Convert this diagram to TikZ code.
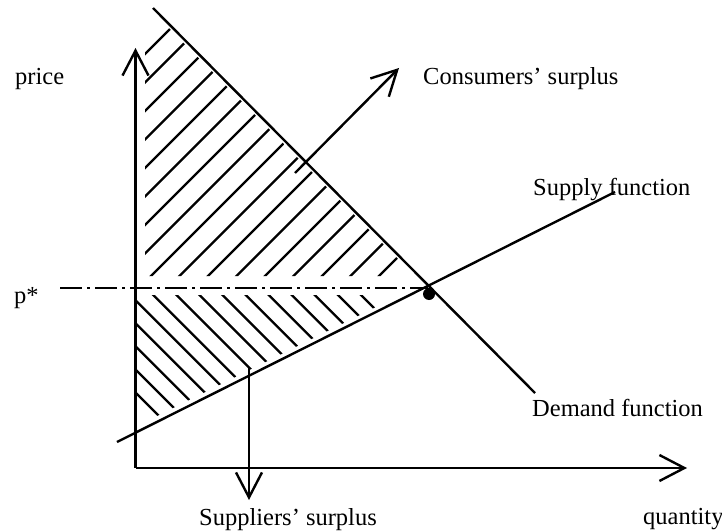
\documentclass[tikz,border=0pt]{standalone}
\usepackage{fontspec}
\setmainfont{Liberation Serif}
\usetikzlibrary{arrows.meta}
\tikzset{
  lbl/.style={anchor=base west, inner sep=0pt, font=\fontsize{24.5}{28}\selectfont},
  ln/.style={line width=2.4pt},
  hatch/.style={line width=2.3pt},
  vtip/.style={-{Straight Barb[length=25pt,width=26pt,line width=2.4pt]}, line width=2.4pt}
}
\begin{document}
\begin{tikzpicture}[x=1pt,y=-1pt]
\useasboundingbox (0,0) rectangle (722,532);
% key points
\coordinate (O) at (135.5,468);
\coordinate (Ytop) at (135.5,48);
\coordinate (Xend) at (687,468);
\coordinate (Dtop) at (153,8);
\coordinate (Dend) at (535,393);
\coordinate (Sstart) at (117,442);
\coordinate (Send) at (615,192);
\coordinate (E) at (428,288);
\coordinate (Pstart) at (60,288);
\coordinate (Cs) at (295,173);
\coordinate (Ct) at (399,68);
\coordinate (Ss) at (249,367);
\coordinate (St) at (249,500);
% hatching upper (consumers)
\begin{scope}
  \clip (145,4) -- (415,276) -- (145,276) -- cycle;
  \foreach \k in {0,...,16} {
    \pgfmathsetmacro{\c}{199+\k*28.5}
    \draw[hatch] (100,\c-100) -- (500,\c-500);
  }
\end{scope}
% hatching lower (suppliers)
\begin{scope}
  \clip (137,295) -- (400,295) -- (137,426) -- cycle;
  \foreach \k in {0,...,14} {
    \pgfmathsetmacro{\c}{-257+\k*23.07}
    \draw[hatch] (100,100-\c) -- (500,500-\c);
  }
\end{scope}
% axes
\draw[vtip] (O) -- (Ytop);
\draw[vtip] (O) -- (Xend);
% demand and supply
\draw[ln] (Dtop) -- (Dend);
\draw[ln] (Sstart) -- (Send);
% p* line
\draw[line width=2.6pt, dash pattern=on 22pt off 5pt on 3pt off 5pt] (Pstart) -- (E);
% equilibrium dot
\fill (429,294) circle (6);
% surplus arrows
\draw[vtip] (Cs) -- (Ct);
\draw[vtip] (Ss) -- (St);
% labels
\node[lbl] (price) at (15,85) {price};
\node[lbl] (pstar) at (14,303) {p*};
\node[lbl] (cons) at (423,85) {Consumers’ surplus};
\node[lbl] (supf) at (533,195) {Supply function};
\node[lbl] (demf) at (532,416) {Demand function};
\node[lbl] (supl) at (199,525) {Suppliers’ surplus};
\node[lbl] (qty) at (643,524) {quantity};
\end{tikzpicture}
\end{document}
